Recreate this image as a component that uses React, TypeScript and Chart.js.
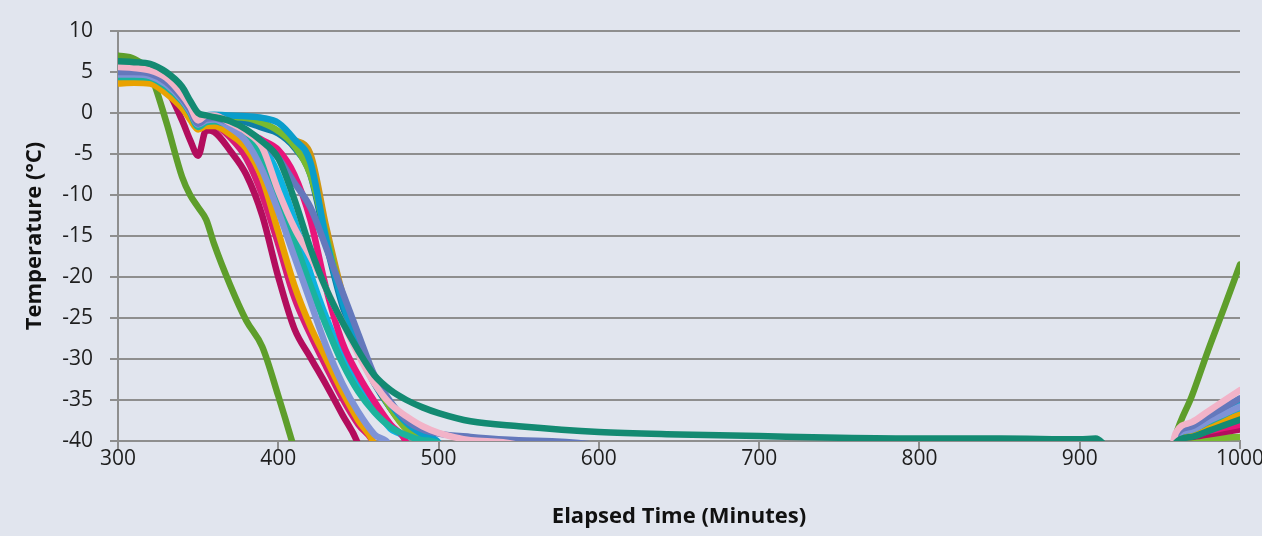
import React, { useEffect, useRef } from 'react';
import { Chart, registerables } from 'chart.js';

Chart.register(...registerables);

// Elapsed time (minutes) shared by every series
const TIMES = [300, 310, 320, 330, 340, 345, 350, 355, 360, 370, 380, 390, 400, 410, 420, 430, 440, 450, 460, 470, 480, 490, 500, 520, 550, 600, 650, 700, 750, 800, 850, 900, 910, 915, 950, 960, 970, 980, 990, 1000];

const X_TICKS = [300, 400, 500, 600, 700, 800, 900, 1000];
const Y_TICKS = [-40, -35, -30, -25, -20, -15, -10, -5, 0, 5, 10];

// Temperatures (°C); values below -40 fall under the axis and are clipped
const greenEarly = [7, 6.6, 4.8, -1, -7.8, -10, -11.5, -13, -16, -21, -25.3, -28.5, -34.5, -41, -48, -48, -48, -48, -48, -48, -48, -48, -48, -48, -48, -48, -48, -48, -48, -48, -48, -48, -48, -48, -48, -39.3, -34.5, -29, -23.8, -18.5];
const tealDark = [6.3, 6.2, 6.0, 5.0, 3.2, 1.5, 0, -0.3, -0.5, -1, -2, -3.5, -5.5, -10.5, -16.5, -21.5, -25.5, -29, -32, -33.8, -35, -35.9, -36.6, -37.6, -38.2, -38.9, -39.2, -39.4, -39.6, -39.7, -39.7, -39.8, -39.7, -40.4, -48, -40.2, -39.5, -38.8, -38.1, -37.4];
const pink = [5.6, 5.5, 5.2, 4.3, 2.2, 0.8, -0.9, -0.3, -0.3, -1.2, -2.3, -4.2, -9.5, -14, -17.5, -21.5, -25.5, -29.5, -33, -35.5, -37, -38.2, -39, -39.9, -40.5, -48, -48, -48, -48, -48, -48, -48, -48, -48, -48, -39.0, -37.7, -36.4, -35.1, -33.8];
const periwinkle = [5.0, 5.0, 4.8, 3.8, 1.8, 0.4, -1.3, -0.7, -0.6, -1.2, -2.2, -3.5, -5.5, -8.5, -11.5, -16.5, -21.8, -27, -32, -35.2, -37.5, -38.6, -39.1, -39.5, -39.9, -40.6, -48, -48, -48, -48, -48, -48, -48, -48, -48, -39.3, -38.2, -37.0, -35.9, -34.8];
const lightPeri = [4.7, 4.7, 4.5, 3.5, 1.6, 0.2, -1.4, -0.9, -0.8, -1.8, -3.5, -7, -12, -17.5, -23, -28.5, -33, -36.5, -39.2, -40.8, -48, -48, -48, -48, -48, -48, -48, -48, -48, -48, -48, -48, -48, -48, -48, -39.5, -38.6, -37.6, -36.7, -35.8];
const teal = [4.4, 4.4, 4.3, 3.2, 1.4, 0, -1.7, -1.1, -1.0, -1.6, -2.8, -5.5, -10, -15.5, -21, -26, -30.5, -34, -36.5, -38.3, -39.3, -39.9, -40.3, -48, -48, -48, -48, -48, -48, -48, -48, -48, -48, -48, -48, -39.5, -38.6, -37.7, -36.8, -35.8];
const orange = [3.6, 3.7, 3.6, 2.4, 0.6, -0.8, -2.0, -1.6, -1.6, -2.6, -4.3, -8, -14.5, -21, -26, -30, -34, -37.5, -40.5, -48, -48, -48, -48, -48, -48, -48, -48, -48, -48, -48, -48, -48, -48, -48, -48, -39.6, -38.9, -38.2, -37.5, -36.8];
const blue = [5.2, 5.2, 5.0, 4.0, 2.0, 0.6, -0.8, -0.3, -0.2, -0.3, -0.4, -0.6, -1.2, -3.2, -6, -15.5, -23, -28.5, -32.5, -35.5, -37.8, -39.2, -40.2, -48, -48, -48, -48, -48, -48, -48, -48, -48, -48, -48, -48, -39.5, -38.5, -37.4, -36.4, -35.3];
const magenta = [5.3, 5.3, 5.0, 4.0, 2.0, 0.6, -0.9, -0.5, -0.5, -1.3, -2.3, -3.3, -4.5, -7.5, -13, -21.5, -28, -32, -35.2, -38, -40.3, -48, -48, -48, -48, -48, -48, -48, -48, -48, -48, -48, -48, -48, -48, -39.7, -39.3, -38.8, -38.4, -38];
const crimson = [4.8, 4.8, 4.5, 3, -0.9, -3.3, -5.2, -2.1, -2.3, -4.6, -7.5, -12.5, -20, -26.3, -29.8, -33.2, -36.8, -40.5, -48, -48, -48, -48, -48, -48, -48, -48, -48, -48, -48, -48, -48, -48, -48, -48, -48, -39.8, -39.5, -39.2, -38.9, -38.6];
const magentaDeep = [4.6, 4.6, 4.4, 3.3, 1.4, 0, -1.4, -1.2, -1.4, -3, -5.5, -10, -16, -22.5, -27, -31, -34.8, -38, -40.5, -48, -48, -48, -48, -48, -48, -48, -48, -48, -48, -48, -48, -48, -48, -48, -48, -39.8, -39.4, -39.0, -38.7, -38.3];
const cyan = [4.6, 4.6, 4.4, 3.4, 1.5, 0.1, -1.3, -1.0, -0.9, -1.5, -2.5, -4, -7.5, -13, -19.5, -25, -29.5, -33, -36, -38.5, -40.2, -48, -48, -48, -48, -48, -48, -48, -48, -48, -48, -48, -48, -48, -48, -39.6, -38.8, -37.9, -37.1, -36.2];
const lightGreen = [4.9, 4.9, 4.7, 3.7, 1.7, 0.3, -1.0, -0.6, -0.4, -0.5, -0.6, -1.2, -2.2, -4, -7.5, -15, -22.5, -28, -32.5, -36, -38.5, -40, -41, -48, -48, -48, -48, -48, -48, -48, -48, -48, -48, -48, -48, -40.0, -39.9, -39.7, -39.6, -39.5];
const steel = [5.4, 5.4, 5.2, 4.2, 2.2, 0.8, -0.6, -0.4, -0.4, -0.6, -1.1, -1.8, -2.5, -4.2, -7.5, -16, -23.5, -29, -33, -36, -38.3, -39.6, -40.5, -48, -48, -48, -48, -48, -48, -48, -48, -48, -48, -48, -48, -39.7, -39.2, -38.6, -38.1, -37.5];
const gold = [4.2, 4.2, 4.0, 3.0, 1.2, -0.2, -1.4, -1.0, -0.6, -0.8, -1, -1.5, -2.3, -3.3, -5, -14, -22, -28, -32.5, -36, -38.6, -40.2, -48, -48, -48, -48, -48, -48, -48, -48, -48, -48, -48, -48, -48, -39.7, -39.1, -38.5, -37.8, -37.2];

// First entry is drawn on top
const SERIES_VALUES = [tealDark, pink, periwinkle, lightPeri, teal, orange, blue, magenta, crimson, magentaDeep, cyan, lightGreen, steel, gold, greenEarly];
const SERIES_NAMES = ['Probe 1', 'Probe 2', 'Probe 3', 'Probe 4', 'Probe 5', 'Probe 6', 'Probe 7', 'Probe 8', 'Probe 9', 'Probe 10', 'Probe 11', 'Probe 12', 'Probe 13', 'Probe 14', 'Probe 15'];
const SERIES_COLORS = ['#138A72', '#F2B3C8', '#6478BC', '#7F93D6', '#1BB39D', '#E9A200', '#0A9DCB', '#E8157B', '#B30D5D', '#D81B72', '#0DB3E0', '#79BA2F', '#0E7EA6', '#CF9612', '#5E9E2B'];

const BG = '#E1E5EE';
const GRID = '#8E8E8E';
const FONT = 'Open Sans';

export default function App() {
  const ref = useRef<HTMLCanvasElement>(null);

  useEffect(() => {
    document.body.style.margin = '0';
    document.body.style.background = BG;
    const canvas = ref.current;
    if (!canvas) return;

    const bgPlugin = {
      id: 'bg',
      beforeDraw(chart: any) {
        const { ctx, width, height } = chart;
        ctx.save();
        ctx.fillStyle = BG;
        ctx.fillRect(0, 0, width, height);
        ctx.restore();
      },
    };

    const datasets = SERIES_VALUES.map((vals, i) => ({
      label: SERIES_NAMES[i],
      data: vals.map((v, j) => ({ x: TIMES[j], y: v })),
      borderColor: SERIES_COLORS[i],
      backgroundColor: SERIES_COLORS[i],
      borderWidth: 6.5,
      pointRadius: 0,
      fill: false,
      cubicInterpolationMode: 'monotone' as const,
      borderCapStyle: 'round' as const,
      borderJoinStyle: 'round' as const,
      clip: 0,
    }));

    const chart = new Chart(canvas, {
      type: 'line',
      data: { datasets },
      plugins: [bgPlugin],
      options: {
        animation: false,
        responsive: false,
        devicePixelRatio: 1,
        layout: { padding: { left: 0, right: 22, top: 31, bottom: 0 } },
        plugins: { legend: { display: false }, tooltip: { enabled: false } },
        scales: {
          x: {
            type: 'linear',
            min: 300,
            max: 1000,
            afterBuildTicks: (s: any) => { s.ticks = X_TICKS.map((v) => ({ value: v })); },
            ticks: {
              font: { family: FONT, size: 21, lineHeight: 1 },
              color: '#1e1e1e',
              padding: 0,
              maxRotation: 0,
              autoSkip: false,
              callback: (v: any) => String(v),
            },
            grid: { drawOnChartArea: false, drawTicks: true, tickLength: 8, color: GRID, lineWidth: 2 },
            border: { display: true, color: GRID, width: 2 },
            title: {
              display: true,
              text: 'Elapsed Time (Minutes)',
              font: { family: FONT, size: 22, weight: 'bold' },
              color: '#111',
              padding: { top: 0, bottom: 6 },
            },
            afterFit: (s: any) => { s.height = 95; s.paddingLeft = 0; s.paddingRight = 0; },
          },
          y: {
            min: -40,
            max: 10,
            afterBuildTicks: (s: any) => { s.ticks = Y_TICKS.map((v) => ({ value: v })); },
            ticks: {
              font: { family: FONT, size: 21 },
              color: '#1e1e1e',
              padding: 17,
              callback: (v: any) => String(v),
            },
            grid: { color: GRID, lineWidth: 2, tickLength: 8, drawTicks: true },
            border: { display: true, color: GRID, width: 2 },
            title: {
              display: true,
              text: 'Temperature (°C)',
              font: { family: FONT, size: 22, weight: 'bold' },
              color: '#111',
              padding: { top: 22, bottom: 0 },
            },
            afterFit: (s: any) => { s.width = 118; },
          },
        },
      },
    } as any);

    return () => chart.destroy();
  }, []);

  return (
    <div style={{ position: 'absolute', left: 0, top: 0, width: 1262, height: 536, background: BG }}>
      <canvas ref={ref} width={1262} height={536} style={{ display: 'block' }} />
    </div>
  );
}
